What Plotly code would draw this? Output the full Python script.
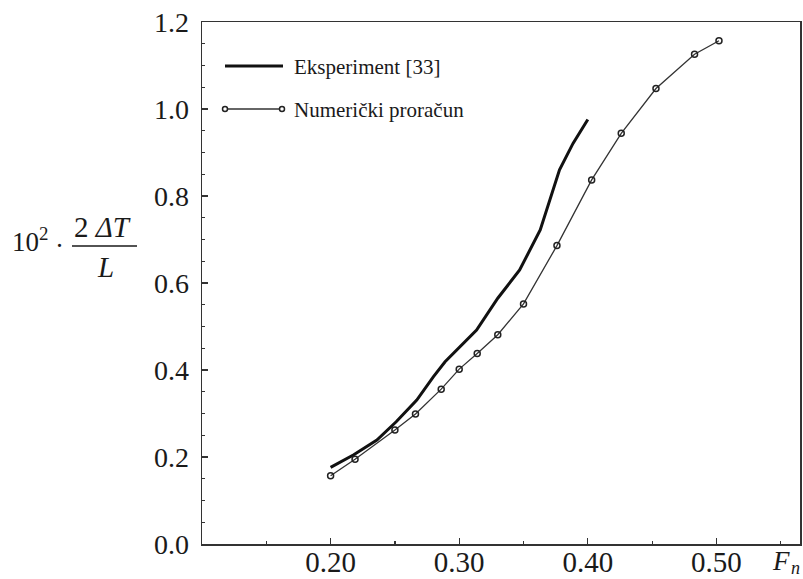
import plotly.graph_objects as go

# Data
exp_x = [0.200, 0.218, 0.236, 0.251, 0.267, 0.280, 0.289, 0.303, 0.3135, 0.330, 0.347, 0.363, 0.378, 0.3885, 0.400]
exp_y = [0.176, 0.205, 0.239, 0.281, 0.331, 0.385, 0.419, 0.461, 0.492, 0.565, 0.630, 0.722, 0.860, 0.921, 0.976]

num_x = [0.200, 0.219, 0.250, 0.266, 0.286, 0.300, 0.314, 0.330, 0.350, 0.376, 0.403, 0.426, 0.453, 0.483, 0.502]
num_y = [0.157, 0.195, 0.262, 0.299, 0.356, 0.402, 0.438, 0.481, 0.552, 0.686, 0.837, 0.944, 1.047, 1.126, 1.157]

x_tickvals = [0.20, 0.30, 0.40, 0.50]
x_ticktext = ["0.20", "0.30", "0.40", "0.50"]
y_tickvals = [0.0, 0.2, 0.4, 0.6, 0.8, 1.0, 1.2]
y_ticktext = ["0.0", "0.2", "0.4", "0.6", "0.8", "1.0", "1.2"]

legend_exp = "Eksperiment [33]"
legend_num = "Numerički proračun"

FONT = "Liberation Serif, Times New Roman, serif"
INK = "#1a1a1a"

# page margin is removed by post_script, so the figure starts at (0, 0)
OFF = 0
W, H = 803, 579
ML, MR, MT, MB = 202, 3, 22, 35
PW = W - ML - MR
PH = H - MT - MB


def px(x):
    return (x - OFF - ML) / PW


def py(y):
    return (H - MB - (y - OFF)) / PH


fig = go.Figure()
fig.add_trace(go.Scatter(x=exp_x, y=exp_y, mode="lines",
                         line=dict(color="#111111", width=3),
                         name=legend_exp, showlegend=False))
fig.add_trace(go.Scatter(x=num_x, y=num_y, mode="lines+markers",
                         line=dict(color="#333333", width=1.3),
                         marker=dict(symbol="circle-open", size=6, color="#222222",
                                     line=dict(width=1.5, color="#222222")),
                         name=legend_num, showlegend=False))

shapes = []
annotations = []

# custom legend
shapes.append(dict(type="line", xref="paper", yref="paper",
                   x0=px(225), x1=px(283), y0=py(66), y1=py(66),
                   line=dict(color="#111111", width=3)))
annotations.append(dict(xref="paper", yref="paper", x=px(292), y=py(67),
                        text=legend_exp, showarrow=False, xanchor="left", yanchor="middle",
                        font=dict(family=FONT, size=21, color=INK)))
shapes.append(dict(type="line", xref="paper", yref="paper",
                   x0=px(225), x1=px(282), y0=py(109), y1=py(109),
                   line=dict(color="#333333", width=1.3)))
for cx in (225, 282):
    shapes.append(dict(type="circle", xref="paper", yref="paper",
                       x0=px(cx - 2.5), x1=px(cx + 2.5), y0=py(109 + 2.5), y1=py(109 - 2.5),
                       line=dict(color="#222222", width=1.5), fillcolor="white"))
annotations.append(dict(xref="paper", yref="paper", x=px(292), y=py(110),
                        text=legend_num, showarrow=False, xanchor="left", yanchor="middle",
                        font=dict(family=FONT, size=21, color=INK)))

# y-axis title: 10^2 · 2ΔT / L
annotations.append(dict(xref="paper", yref="paper", x=px(10), y=py(240),
                        text="10<sup>2</sup>", showarrow=False, xanchor="left", yanchor="middle",
                        font=dict(family=FONT, size=27, color=INK)))
annotations.append(dict(xref="paper", yref="paper", x=px(59), y=py(246),
                        text="·", showarrow=False, xanchor="center", yanchor="middle",
                        font=dict(family=FONT, size=27, color=INK)))
annotations.append(dict(xref="paper", yref="paper", x=px(102), y=py(227),
                        text="2 <i>ΔT</i>", showarrow=False, xanchor="center", yanchor="middle",
                        font=dict(family=FONT, size=29, color=INK)))
shapes.append(dict(type="line", xref="paper", yref="paper",
                   x0=px(72), x1=px(137), y0=py(246), y1=py(246),
                   line=dict(color=INK, width=1.5)))
annotations.append(dict(xref="paper", yref="paper", x=px(105), y=py(267),
                        text="<i>L</i>", showarrow=False, xanchor="center", yanchor="middle",
                        font=dict(family=FONT, size=29, color=INK)))

# x-axis title F_n (F plus a small subscript n)
annotations.append(dict(xref="paper", yref="paper", x=px(781), y=py(561),
                        text="<i>F</i>", showarrow=False, xanchor="center", yanchor="middle",
                        font=dict(family=FONT, size=27, color=INK)))
annotations.append(dict(xref="paper", yref="paper", x=px(795), y=py(568),
                        text="<i>n</i>", showarrow=False, xanchor="center", yanchor="middle",
                        font=dict(family=FONT, size=18, color=INK)))

fig.update_layout(
    width=W, height=H,
    margin=dict(l=ML, r=MR, t=MT, b=MB, autoexpand=False),
    paper_bgcolor="white", plot_bgcolor="white",
    font=dict(family=FONT, color=INK),
    shapes=shapes, annotations=annotations,
    showlegend=False,
)
fig.update_xaxes(range=[0.10, 0.565], tickvals=x_tickvals, ticktext=x_ticktext,
                 automargin=False, ticklabeloverflow="allow",
                 showgrid=False, zeroline=False,
                 showline=True, mirror=True, linecolor="#333333", linewidth=1.5,
                 ticks="inside", ticklen=6, tickwidth=1.2, tickcolor="#333333",
                 ticklabelstandoff=-8,
                 tickfont=dict(family=FONT, size=29, color=INK),
                 minor=dict(dtick=0.05, tick0=0.0, ticks="inside", ticklen=3,
                            tickcolor="#333333", showgrid=False))
fig.update_yaxes(range=[0, 1.2], tickvals=y_tickvals, ticktext=y_ticktext,
                 automargin=False, ticklabeloverflow="allow",
                 showgrid=False, zeroline=False,
                 showline=True, mirror=True, linecolor="#333333", linewidth=1.5,
                 ticks="inside", ticklen=6, tickwidth=1.2, tickcolor="#333333",
                 ticklabelstandoff=6,
                 tickfont=dict(family=FONT, size=28, color=INK),
                 minor=dict(dtick=0.05, tick0=0.0, ticks="inside", ticklen=3,
                            tickcolor="#333333", showgrid=False))

fig.write_html(
    "out.html",
    config={"displayModeBar": False, "staticPlot": True},
    post_script="document.body.style.margin='0px'; document.body.style.overflow='hidden';",
)
